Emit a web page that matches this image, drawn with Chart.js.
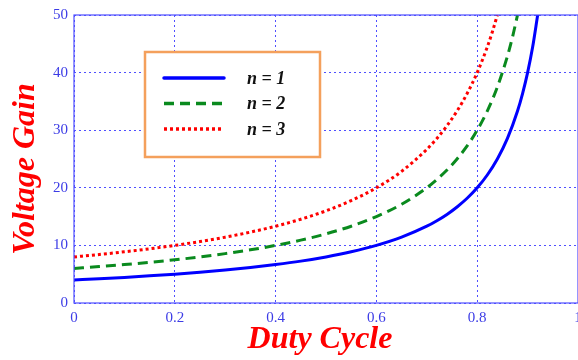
<!DOCTYPE html>
<html>
<head>
<meta charset="utf-8">
<script src="https://cdn.jsdelivr.net/npm/chart.js@4/dist/chart.umd.min.js"></script>
<style>
  html, body { margin: 0; padding: 0; background: #fff; overflow: hidden; }
  #wrap { width: 578px; height: 360px; overflow: hidden; }
</style>
</head>
<body>
<div id="wrap"><canvas id="gain" width="600" height="360"></canvas></div>
<script>
// duty cycle points for each curve (each stops where it leaves the top of the plot)
const dutyN1 = [0, 0.05, 0.1, 0.15, 0.2, 0.25, 0.3, 0.35, 0.4, 0.45, 0.5, 0.55, 0.6, 0.65, 0.7, 0.72, 0.74, 0.76, 0.78, 0.8, 0.82, 0.84, 0.86, 0.88, 0.89, 0.9, 0.91, 0.92];
const gainN1 = [4.00, 4.21, 4.44, 4.71, 5.00, 5.33, 5.71, 6.15, 6.67, 7.27, 8.00, 8.89, 10.0, 11.43, 13.33, 14.29, 15.38, 16.67, 18.18, 20.0, 22.22, 25.0, 28.57, 33.33, 36.36, 40.0, 44.44, 50.0];

const dutyN2 = [0, 0.05, 0.1, 0.15, 0.2, 0.25, 0.3, 0.35, 0.4, 0.45, 0.5, 0.55, 0.6, 0.65, 0.7, 0.72, 0.74, 0.76, 0.78, 0.8, 0.82, 0.84, 0.86, 0.87, 0.88];
const gainN2 = [6.00, 6.32, 6.67, 7.06, 7.50, 8.00, 8.57, 9.23, 10.0, 10.91, 12.0, 13.33, 15.0, 17.14, 20.0, 21.43, 23.08, 25.0, 27.27, 30.0, 33.33, 37.5, 42.86, 46.15, 50.0];

const dutyN3 = [0, 0.05, 0.1, 0.15, 0.2, 0.25, 0.3, 0.35, 0.4, 0.45, 0.5, 0.55, 0.6, 0.65, 0.7, 0.72, 0.74, 0.76, 0.78, 0.8, 0.82, 0.83, 0.84];
const gainN3 = [8.00, 8.42, 8.89, 9.41, 10.0, 10.67, 11.43, 12.31, 13.33, 14.55, 16.0, 17.78, 20.0, 22.86, 26.67, 28.57, 30.77, 33.33, 36.36, 40.0, 44.44, 47.06, 50.0];

const seriesNames = ["n = 1", "n = 2", "n = 3"];
const xTicks = [0, 0.2, 0.4, 0.6, 0.8, 1];
const yTicks = [0, 10, 20, 30, 40, 50];
const xTitle = "Duty Cycle";
const yTitle = "Voltage Gain";

const gridBlue = "#4f4fff";
const tickBlue = "#3c3ce6";
const serif = "'Liberation Serif', 'DejaVu Serif', serif";

function pts(xs, ys) {
  return xs.map((x, i) => ({ x: x, y: ys[i] }));
}

// frame round the plot area, the axis titles and the boxed legend
const framePlugin = {
  id: "frame",
  afterDraw(chart) {
    const { ctx, chartArea: a } = chart;
    ctx.save();
    ctx.strokeStyle = gridBlue;
    ctx.lineWidth = 1.2;
    ctx.setLineDash([]);
    ctx.strokeRect(a.left, a.top, a.right - a.left, a.bottom - a.top);

    // axis titles
    ctx.fillStyle = "#ff0000";
    ctx.font = "bold italic 32px " + serif;
    ctx.textAlign = "center";
    ctx.textBaseline = "alphabetic";
    ctx.fillText(xTitle, 320, 348);
    ctx.save();
    ctx.translate(34, 169);
    ctx.rotate(-Math.PI / 2);
    ctx.fillText(yTitle, 0, 0);
    ctx.restore();

    // legend box
    const bx = 145, by = 52, bw = 175, bh = 105;
    ctx.fillStyle = "#fff";
    ctx.fillRect(bx, by, bw, bh);
    ctx.strokeStyle = "#f4a05c";
    ctx.lineWidth = 2.5;
    ctx.strokeRect(bx, by, bw, bh);

    chart.data.datasets.forEach((ds, i) => {
      const y = 78 + i * 25.5;
      ctx.beginPath();
      ctx.strokeStyle = ds.borderColor;
      ctx.lineWidth = ds.borderWidth + 0.5;
      ctx.lineCap = ds.borderCapStyle || "butt";
      ctx.setLineDash(ds.borderDash || []);
      ctx.moveTo(164, y);
      ctx.lineTo(224, y);
      ctx.stroke();
      ctx.setLineDash([]);
      ctx.fillStyle = "#111";
      ctx.font = "bold italic 18px " + serif;
      ctx.textBaseline = "middle";
      ctx.textAlign = "left";
      ctx.fillText(ds.label, 247, y + 1);
    });
    ctx.restore();
  }
};

new Chart(document.getElementById("gain").getContext("2d"), {
  type: "line",
  data: {
    datasets: [
      {
        label: seriesNames[0],
        data: pts(dutyN1, gainN1),
        borderColor: "#0000ff",
        borderWidth: 3,
        borderCapStyle: "round",
      },
      {
        label: seriesNames[1],
        data: pts(dutyN2, gainN2),
        borderColor: "#0a8a1e",
        borderWidth: 3,
        borderDash: [10, 6],
      },
      {
        label: seriesNames[2],
        data: pts(dutyN3, gainN3),
        borderColor: "#ff0000",
        borderWidth: 3,
        borderDash: [3, 3],
      },
    ],
  },
  options: {
    responsive: false,
    animation: false,
    cubicInterpolationMode: "monotone",
    elements: { point: { radius: 0 } },
    layout: { padding: { left: 0, top: 14, right: 22, bottom: 0 } },
    plugins: { legend: { display: false }, tooltip: { enabled: false } },
    scales: {
      x: {
        type: "linear",
        min: 0,
        max: 1,
        afterBuildTicks: (s) => { s.ticks = xTicks.map(v => ({ value: v })); },
        afterFit: (s) => { s.height = 57; },
        grid: { color: gridBlue, lineWidth: 1, drawTicks: false },
        border: { display: false, dash: [2, 3] },
        ticks: {
          color: tickBlue,
          padding: 6,
          maxRotation: 0,
          font: { family: serif, size: 15 },
          callback: (v) => String(v),
        },
      },
      y: {
        min: 0,
        max: 50,
        afterBuildTicks: (s) => { s.ticks = yTicks.map(v => ({ value: v })); },
        afterFit: (s) => { s.width = 74; },
        grid: { color: gridBlue, lineWidth: 1, drawTicks: false },
        border: { display: false, dash: [2, 3] },
        ticks: {
          color: tickBlue,
          padding: 6,
          font: { family: serif, size: 15 },
        },
      },
    },
  },
  plugins: [framePlugin],
});
</script>
</body>
</html>
